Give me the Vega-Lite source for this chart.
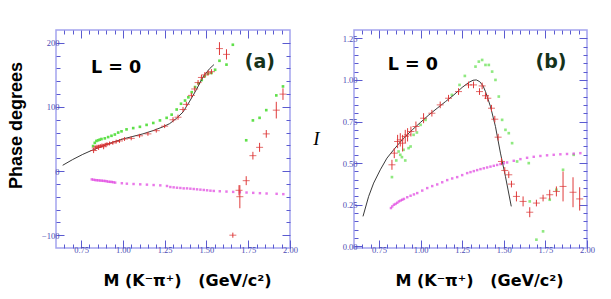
{
  "$schema": "https://vega.github.io/schema/vega-lite/v6.json",
  "padding": {"left": 6, "top": 28, "right": 5, "bottom": 5},
  "spacing": 13,
  "background": "white",
  "config": {
    "view": {"stroke": "#a4a4ee", "strokeWidth": 1.5},
    "axis": {
      "domain": false, "grid": false,
      "labelFont": "Liberation Serif", "labelFontSize": 8.5, "labelColor": "#4a4ab4",
      "tickColor": "#5a5ad0", "tickWidth": 1,
      "labelFlush": false, "labelOverlap": false, "labelPadding": 5,
      "titleFont": "Liberation Sans", "titleFontWeight": "bold", "titleColor": "#000000"
    }
  },
  "datasets": {
    "a_curve": [
      {"x": 0.64, "y": 9}, {"x": 0.70, "y": 18}, {"x": 0.76, "y": 26}, {"x": 0.82, "y": 33}, {"x": 0.88, "y": 39},
      {"x": 0.94, "y": 45}, {"x": 1.00, "y": 50}, {"x": 1.06, "y": 54}, {"x": 1.12, "y": 58}, {"x": 1.18, "y": 63},
      {"x": 1.24, "y": 69}, {"x": 1.28, "y": 74}, {"x": 1.32, "y": 82}, {"x": 1.36, "y": 92}, {"x": 1.40, "y": 109},
      {"x": 1.44, "y": 127}, {"x": 1.48, "y": 147}, {"x": 1.52, "y": 160}, {"x": 1.545, "y": 166}
    ],
    "a_red": [
      {"x": 0.825, "y": 32, "e": 4}, {"x": 0.835, "y": 36, "e": 4}, {"x": 0.845, "y": 38, "e": 3}, {"x": 0.855, "y": 37, "e": 4},
      {"x": 0.865, "y": 39, "e": 3}, {"x": 0.875, "y": 40, "e": 3}, {"x": 0.885, "y": 38, "e": 4}, {"x": 0.895, "y": 41, "e": 3},
      {"x": 0.905, "y": 42, "e": 3}, {"x": 0.92, "y": 43, "e": 3}, {"x": 0.94, "y": 44, "e": 3}, {"x": 0.96, "y": 46, "e": 3},
      {"x": 0.98, "y": 47, "e": 3}, {"x": 1.01, "y": 50, "e": 3}, {"x": 1.05, "y": 51, "e": 3}, {"x": 1.10, "y": 55, "e": 3},
      {"x": 1.15, "y": 58, "e": 3}, {"x": 1.20, "y": 63, "e": 3}, {"x": 1.25, "y": 70, "e": 3}, {"x": 1.30, "y": 80, "e": 4},
      {"x": 1.33, "y": 84, "e": 4}, {"x": 1.36, "y": 96, "e": 4}, {"x": 1.38, "y": 104, "e": 4}, {"x": 1.41, "y": 118, "e": 4},
      {"x": 1.43, "y": 128, "e": 4}, {"x": 1.45, "y": 138, "e": 4}, {"x": 1.47, "y": 146, "e": 4}, {"x": 1.49, "y": 150, "e": 4},
      {"x": 1.51, "y": 153, "e": 4}, {"x": 1.53, "y": 155, "e": 4},
      {"x": 1.578, "y": 191, "e": 10}, {"x": 1.62, "y": 182, "e": 8}, {"x": 1.658, "y": -100, "e": 4},
      {"x": 1.695, "y": -30, "e": 8}, {"x": 1.70, "y": -40, "e": 18}, {"x": 1.738, "y": -15, "e": 7},
      {"x": 1.778, "y": 24, "e": 6}, {"x": 1.818, "y": 37, "e": 7}, {"x": 1.858, "y": 58, "e": 6},
      {"x": 1.918, "y": 95, "e": 13}, {"x": 1.958, "y": 120, "e": 9}
    ],
    "a_green": [
      {"x": 0.822, "y": 39}, {"x": 0.832, "y": 44}, {"x": 0.842, "y": 47}, {"x": 0.852, "y": 48}, {"x": 0.862, "y": 49},
      {"x": 0.872, "y": 50}, {"x": 0.892, "y": 51}, {"x": 0.912, "y": 53}, {"x": 0.932, "y": 55}, {"x": 0.952, "y": 57},
      {"x": 0.972, "y": 60}, {"x": 0.992, "y": 62}, {"x": 1.022, "y": 65}, {"x": 1.062, "y": 67}, {"x": 1.102, "y": 69},
      {"x": 1.142, "y": 72}, {"x": 1.182, "y": 75}, {"x": 1.222, "y": 79}, {"x": 1.262, "y": 83}, {"x": 1.292, "y": 88},
      {"x": 1.322, "y": 96}, {"x": 1.348, "y": 105}, {"x": 1.372, "y": 110}, {"x": 1.392, "y": 115}, {"x": 1.412, "y": 123},
      {"x": 1.432, "y": 131}, {"x": 1.452, "y": 137}, {"x": 1.472, "y": 142}, {"x": 1.49, "y": 148}, {"x": 1.51, "y": 152},
      {"x": 1.53, "y": 153}, {"x": 1.552, "y": 158},
      {"x": 1.578, "y": 172}, {"x": 1.62, "y": 166}, {"x": 1.658, "y": 197}, {"x": 1.738, "y": 48}, {"x": 1.778, "y": 79},
      {"x": 1.818, "y": 83}, {"x": 1.858, "y": 95}, {"x": 1.918, "y": 118}, {"x": 1.958, "y": 132}
    ],
    "a_mag": [
      {"x": 0.814, "y": -13}, {"x": 0.824, "y": -13.5}, {"x": 0.834, "y": -14}, {"x": 0.844, "y": -14.3}, {"x": 0.854, "y": -14.5},
      {"x": 0.864, "y": -14.8}, {"x": 0.874, "y": -15}, {"x": 0.884, "y": -15.3}, {"x": 0.894, "y": -15.5}, {"x": 0.904, "y": -16},
      {"x": 0.914, "y": -16.6}, {"x": 0.924, "y": -16.8}, {"x": 0.934, "y": -17}, {"x": 0.944, "y": -17.5}, {"x": 0.954, "y": -18},
      {"x": 0.994, "y": -19}, {"x": 1.024, "y": -19.7}, {"x": 1.064, "y": -20.2}, {"x": 1.104, "y": -20.7}, {"x": 1.144, "y": -21.2},
      {"x": 1.184, "y": -21.8}, {"x": 1.224, "y": -22.3}, {"x": 1.264, "y": -23.3}, {"x": 1.284, "y": -24.9}, {"x": 1.304, "y": -25.4},
      {"x": 1.324, "y": -26}, {"x": 1.344, "y": -26.4}, {"x": 1.364, "y": -27}, {"x": 1.384, "y": -27}, {"x": 1.404, "y": -27.5},
      {"x": 1.424, "y": -28}, {"x": 1.444, "y": -28.5}, {"x": 1.464, "y": -29}, {"x": 1.484, "y": -29.5}, {"x": 1.504, "y": -30},
      {"x": 1.524, "y": -30.6}, {"x": 1.544, "y": -31}, {"x": 1.58, "y": -31.5}, {"x": 1.62, "y": -32}, {"x": 1.66, "y": -32.5},
      {"x": 1.70, "y": -33}, {"x": 1.74, "y": -33.5}, {"x": 1.78, "y": -34}, {"x": 1.82, "y": -34.5}, {"x": 1.86, "y": -35},
      {"x": 1.92, "y": -35.5}, {"x": 1.96, "y": -36}
    ],
    "a_text": [
      {"x": 0.96, "y": 161, "t": "L = 0"}
    ],
    "a_tag": [
      {"x": 1.82, "y": 170, "t": "(a)"}
    ],
    "b_curve": [
      {"x": 0.654, "y": 0.18}, {"x": 0.688, "y": 0.30}, {"x": 0.718, "y": 0.38}, {"x": 0.758, "y": 0.46}, {"x": 0.798, "y": 0.53},
      {"x": 0.838, "y": 0.58}, {"x": 0.898, "y": 0.65}, {"x": 0.95, "y": 0.70}, {"x": 1.0, "y": 0.745}, {"x": 1.05, "y": 0.79},
      {"x": 1.10, "y": 0.83}, {"x": 1.15, "y": 0.87}, {"x": 1.20, "y": 0.91}, {"x": 1.25, "y": 0.955}, {"x": 1.29, "y": 0.985},
      {"x": 1.315, "y": 0.998}, {"x": 1.335, "y": 1.0}, {"x": 1.355, "y": 0.99}, {"x": 1.375, "y": 0.965}, {"x": 1.39, "y": 0.93},
      {"x": 1.42, "y": 0.84}, {"x": 1.45, "y": 0.72}, {"x": 1.48, "y": 0.56}, {"x": 1.51, "y": 0.42}, {"x": 1.545, "y": 0.24}
    ],
    "b_red": [
      {"x": 0.828, "y": 0.49, "e": 0.03}, {"x": 0.842, "y": 0.56, "e": 0.03}, {"x": 0.862, "y": 0.63, "e": 0.04}, {"x": 0.878, "y": 0.64, "e": 0.04},
      {"x": 0.892, "y": 0.62, "e": 0.05}, {"x": 0.908, "y": 0.66, "e": 0.04}, {"x": 0.922, "y": 0.67, "e": 0.04}, {"x": 0.942, "y": 0.69, "e": 0.03},
      {"x": 0.972, "y": 0.72, "e": 0.03}, {"x": 1.018, "y": 0.77, "e": 0.03}, {"x": 1.068, "y": 0.80, "e": 0.02}, {"x": 1.118, "y": 0.85, "e": 0.02},
      {"x": 1.168, "y": 0.89, "e": 0.02}, {"x": 1.228, "y": 0.93, "e": 0.02}, {"x": 1.288, "y": 0.97, "e": 0.02}, {"x": 1.318, "y": 0.97, "e": 0.02},
      {"x": 1.354, "y": 0.93, "e": 0.02}, {"x": 1.37, "y": 0.964, "e": 0.02}, {"x": 1.39, "y": 0.905, "e": 0.02}, {"x": 1.404, "y": 0.89, "e": 0.02},
      {"x": 1.426, "y": 0.83, "e": 0.02}, {"x": 1.446, "y": 0.764, "e": 0.02}, {"x": 1.466, "y": 0.656, "e": 0.02}, {"x": 1.486, "y": 0.51, "e": 0.02},
      {"x": 1.506, "y": 0.456, "e": 0.02}, {"x": 1.53, "y": 0.43, "e": 0.02}, {"x": 1.546, "y": 0.374, "e": 0.02}, {"x": 1.576, "y": 0.30, "e": 0.03},
      {"x": 1.616, "y": 0.27, "e": 0.03}, {"x": 1.656, "y": 0.205, "e": 0.03}, {"x": 1.696, "y": 0.26, "e": 0.02}, {"x": 1.736, "y": 0.29, "e": 0.02},
      {"x": 1.776, "y": 0.31, "e": 0.03}, {"x": 1.816, "y": 0.33, "e": 0.03}, {"x": 1.856, "y": 0.36, "e": 0.09}, {"x": 1.916, "y": 0.325, "e": 0.09},
      {"x": 1.956, "y": 0.285, "e": 0.07}
    ],
    "b_green": [
      {"x": 0.828, "y": 0.416}, {"x": 0.854, "y": 0.516}, {"x": 0.868, "y": 0.57}, {"x": 0.878, "y": 0.55}, {"x": 0.888, "y": 0.536},
      {"x": 0.898, "y": 0.58}, {"x": 0.908, "y": 0.516}, {"x": 0.928, "y": 0.59}, {"x": 0.94, "y": 0.60}, {"x": 0.958, "y": 0.67},
      {"x": 0.978, "y": 0.684}, {"x": 1.0, "y": 0.73}, {"x": 1.03, "y": 0.76}, {"x": 1.188, "y": 0.91}, {"x": 1.234, "y": 0.97},
      {"x": 1.266, "y": 1.024}, {"x": 1.33, "y": 1.08}, {"x": 1.35, "y": 1.11}, {"x": 1.37, "y": 1.12}, {"x": 1.39, "y": 1.09},
      {"x": 1.41, "y": 1.09}, {"x": 1.43, "y": 1.05}, {"x": 1.45, "y": 1.0}, {"x": 1.47, "y": 0.90}, {"x": 1.49, "y": 0.76},
      {"x": 1.51, "y": 0.70}, {"x": 1.53, "y": 0.68}, {"x": 1.55, "y": 0.62}, {"x": 1.58, "y": 0.51}, {"x": 1.65, "y": 0.50},
      {"x": 1.656, "y": 0.27}, {"x": 1.696, "y": 0.04}, {"x": 1.736, "y": 0.09}, {"x": 1.776, "y": 0.28}, {"x": 1.816, "y": 0.34},
      {"x": 1.856, "y": 0.46}, {"x": 1.92, "y": 0.55}
    ],
    "b_mag": [
      {"x": 0.822, "y": 0.23}, {"x": 0.83, "y": 0.24}, {"x": 0.84, "y": 0.25}, {"x": 0.85, "y": 0.255}, {"x": 0.86, "y": 0.262},
      {"x": 0.87, "y": 0.27}, {"x": 0.88, "y": 0.275}, {"x": 0.89, "y": 0.28}, {"x": 0.90, "y": 0.285}, {"x": 0.92, "y": 0.295},
      {"x": 0.94, "y": 0.304}, {"x": 0.96, "y": 0.312}, {"x": 0.98, "y": 0.32}, {"x": 1.01, "y": 0.335}, {"x": 1.04, "y": 0.35},
      {"x": 1.07, "y": 0.362}, {"x": 1.10, "y": 0.372}, {"x": 1.13, "y": 0.385}, {"x": 1.16, "y": 0.398}, {"x": 1.19, "y": 0.408},
      {"x": 1.22, "y": 0.416}, {"x": 1.25, "y": 0.428}, {"x": 1.28, "y": 0.44}, {"x": 1.30, "y": 0.446}, {"x": 1.32, "y": 0.452},
      {"x": 1.34, "y": 0.458}, {"x": 1.36, "y": 0.464}, {"x": 1.38, "y": 0.469}, {"x": 1.40, "y": 0.474}, {"x": 1.42, "y": 0.479},
      {"x": 1.44, "y": 0.484}, {"x": 1.46, "y": 0.489}, {"x": 1.48, "y": 0.494}, {"x": 1.50, "y": 0.499}, {"x": 1.52, "y": 0.504},
      {"x": 1.56, "y": 0.514}, {"x": 1.60, "y": 0.524}, {"x": 1.64, "y": 0.532}, {"x": 1.68, "y": 0.538}, {"x": 1.72, "y": 0.543},
      {"x": 1.76, "y": 0.547}, {"x": 1.80, "y": 0.55}, {"x": 1.84, "y": 0.553}, {"x": 1.88, "y": 0.555}, {"x": 1.92, "y": 0.557},
      {"x": 1.96, "y": 0.56}
    ],
    "b_text": [
      {"x": 0.954, "y": 1.09, "t": "L = 0"}
    ],
    "b_tag": [
      {"x": 1.784, "y": 1.108, "t": "(b)"}
    ]
  },
  "hconcat": [
    {
      "width": 234, "height": 218,
      "resolve": {"axis": {"x": "independent", "y": "independent"}},
      "layer": [
        {
          "data": {"name": "a_green"},
          "mark": {"type": "square", "size": 7, "color": "#5fe04a", "opacity": 1},
          "encoding": {
            "x": {"field": "x", "type": "quantitative", "scale": {"domain": [0.6, 2.0], "nice": false, "zero": false},
              "axis": {"orient": "bottom", "title": "M (K⁻π⁺)\u00a0\u00a0\u00a0(GeV/c²)", "titleFont": "DejaVu Sans", "titleFontSize": 16, "titleX": 131, "titleY": 32, "titleBaseline": "middle",
                "values": [0.65,0.7,0.75,0.8,0.85,0.9,0.95,1.0,1.05,1.1,1.15,1.2,1.25,1.3,1.35,1.4,1.45,1.5,1.55,1.6,1.65,1.7,1.75,1.8,1.85,1.9,1.95,2.0],
                "tickSize": {"condition": {"test": "abs(datum.value*4-round(datum.value*4))<0.001", "value": -8}, "value": -4},
                "labelExpr": "abs(datum.value*4-round(datum.value*4))<0.001 ? format(datum.value,'.2f') : ''"}},
            "y": {"field": "y", "type": "quantitative", "scale": {"domain": [-120, 220], "nice": false, "zero": false},
              "axis": {"orient": "left", "title": "Phase degrees", "titleFontSize": 18, "titleX": -40, "titleY": 95, "titleBaseline": "middle", "titleAlign": "center",
                "values": [-100,-80,-60,-40,-20,0,20,40,60,80,100,120,140,160,180,200],
                "tickSize": {"condition": {"test": "datum.value % 100 == 0", "value": -8}, "value": -4},
                "labelExpr": "datum.value % 100 == 0 ? datum.label : ''"}}
          }
        },
        {
          "data": {"name": "a_mag"},
          "mark": {"type": "square", "size": 6, "color": "#e040e0"},
          "encoding": {
            "x": {"field": "x", "type": "quantitative",
              "axis": {"orient": "top", "title": null, "labels": false,
                "values": [0.65,0.7,0.75,0.8,0.85,0.9,0.95,1.0,1.05,1.1,1.15,1.2,1.25,1.3,1.35,1.4,1.45,1.5,1.55,1.6,1.65,1.7,1.75,1.8,1.85,1.9,1.95],
                "tickSize": {"condition": {"test": "abs(datum.value*4-round(datum.value*4))<0.001", "value": -8}, "value": -4}}},
            "y": {"field": "y", "type": "quantitative",
              "axis": {"orient": "right", "title": null, "labels": false,
                "values": [-100,-80,-60,-40,-20,0,20,40,60,80,100,120,140,160,180,200],
                "tickSize": {"condition": {"test": "datum.value % 100 == 0", "value": -8}, "value": -4}}}
          }
        },
        {
          "data": {"name": "a_curve"},
          "mark": {"type": "line", "color": "#222222", "strokeWidth": 0.9},
          "encoding": {
            "x": {"field": "x", "type": "quantitative", "axis": null},
            "y": {"field": "y", "type": "quantitative", "axis": null}
          }
        },
        {
          "data": {"name": "a_red"},
          "mark": {"type": "errorbar", "color": "#e03a3a", "thickness": 1},
          "encoding": {
            "x": {"field": "x", "type": "quantitative", "axis": null},
            "y": {"field": "y", "type": "quantitative", "axis": null},
            "yError": {"field": "e"}
          }
        },
        {
          "data": {"name": "a_red"},
          "mark": {"type": "tick", "orient": "horizontal", "color": "#d83030", "size": 7, "thickness": 1},
          "encoding": {
            "x": {"field": "x", "type": "quantitative", "axis": null},
            "y": {"field": "y", "type": "quantitative", "axis": null}
          }
        },
        {
          "data": {"name": "a_text"},
          "mark": {"type": "text", "font": "DejaVu Sans", "fontWeight": "bold", "fontSize": 17.5, "color": "#000000", "align": "center", "baseline": "middle"},
          "encoding": {
            "x": {"field": "x", "type": "quantitative", "axis": null},
            "y": {"field": "y", "type": "quantitative", "axis": null},
            "text": {"field": "t"}
          }
        },
        {
          "data": {"name": "a_tag"},
          "mark": {"type": "text", "font": "DejaVu Sans", "fontWeight": "bold", "fontSize": 19, "color": "#15321a", "align": "center", "baseline": "middle"},
          "encoding": {
            "x": {"field": "x", "type": "quantitative", "axis": null},
            "y": {"field": "y", "type": "quantitative", "axis": null},
            "text": {"field": "t"}
          }
        }
      ]
    },
    {
      "width": 233, "height": 218,
      "resolve": {"axis": {"x": "independent", "y": "independent"}},
      "layer": [
        {
          "data": {"name": "b_green"},
          "mark": {"type": "square", "size": 7, "color": "#5fe04a"},
          "encoding": {
            "x": {"field": "x", "type": "quantitative", "scale": {"domain": [0.6, 2.0], "nice": false, "zero": false},
              "axis": {"orient": "bottom", "title": "M (K⁻π⁺)\u00a0\u00a0\u00a0(GeV/c²)", "titleFont": "DejaVu Sans", "titleFontSize": 16, "titleX": 125, "titleY": 32, "titleBaseline": "middle",
                "values": [0.65,0.7,0.75,0.8,0.85,0.9,0.95,1.0,1.05,1.1,1.15,1.2,1.25,1.3,1.35,1.4,1.45,1.5,1.55,1.6,1.65,1.7,1.75,1.8,1.85,1.9,1.95,2.0],
                "tickSize": {"condition": {"test": "abs(datum.value*4-round(datum.value*4))<0.001", "value": -8}, "value": -4},
                "labelExpr": "abs(datum.value*4-round(datum.value*4))<0.001 ? format(datum.value,'.2f') : ''"}},
            "y": {"field": "y", "type": "quantitative", "scale": {"domain": [-0.01, 1.3], "nice": false, "zero": false},
              "axis": {"orient": "left", "title": "I", "titleFont": "Liberation Serif", "titleFontStyle": "italic", "titleFontWeight": "normal", "titleFontSize": 19,
                "titleAngle": 0, "titleX": -38, "titleY": 108, "titleBaseline": "middle", "titleAlign": "center",
                "values": [0,0.05,0.1,0.15,0.2,0.25,0.3,0.35,0.4,0.45,0.5,0.55,0.6,0.65,0.7,0.75,0.8,0.85,0.9,0.95,1.0,1.05,1.1,1.15,1.2,1.25],
                "tickSize": {"condition": {"test": "abs(datum.value*4-round(datum.value*4))<0.001", "value": -8}, "value": -4},
                "labelExpr": "abs(datum.value*4-round(datum.value*4))<0.001 ? format(datum.value,'.2f') : ''"}}
          }
        },
        {
          "data": {"name": "b_mag"},
          "mark": {"type": "square", "size": 6, "color": "#e040e0"},
          "encoding": {
            "x": {"field": "x", "type": "quantitative",
              "axis": {"orient": "top", "title": null, "labels": false,
                "values": [0.65,0.7,0.75,0.8,0.85,0.9,0.95,1.0,1.05,1.1,1.15,1.2,1.25,1.3,1.35,1.4,1.45,1.5,1.55,1.6,1.65,1.7,1.75,1.8,1.85,1.9,1.95],
                "tickSize": {"condition": {"test": "abs(datum.value*4-round(datum.value*4))<0.001", "value": -8}, "value": -4}}},
            "y": {"field": "y", "type": "quantitative",
              "axis": {"orient": "right", "title": null, "labels": false,
                "values": [0.05,0.1,0.15,0.2,0.25,0.3,0.35,0.4,0.45,0.5,0.55,0.6,0.65,0.7,0.75,0.8,0.85,0.9,0.95,1.0,1.05,1.1,1.15,1.2,1.25],
                "tickSize": {"condition": {"test": "abs(datum.value*4-round(datum.value*4))<0.001", "value": -8}, "value": -4}}}
          }
        },
        {
          "data": {"name": "b_curve"},
          "mark": {"type": "line", "color": "#222222", "strokeWidth": 0.9},
          "encoding": {
            "x": {"field": "x", "type": "quantitative", "axis": null},
            "y": {"field": "y", "type": "quantitative", "axis": null}
          }
        },
        {
          "data": {"name": "b_red"},
          "mark": {"type": "errorbar", "color": "#e03a3a", "thickness": 1},
          "encoding": {
            "x": {"field": "x", "type": "quantitative", "axis": null},
            "y": {"field": "y", "type": "quantitative", "axis": null},
            "yError": {"field": "e"}
          }
        },
        {
          "data": {"name": "b_red"},
          "mark": {"type": "tick", "orient": "horizontal", "color": "#d83030", "size": 7, "thickness": 1},
          "encoding": {
            "x": {"field": "x", "type": "quantitative", "axis": null},
            "y": {"field": "y", "type": "quantitative", "axis": null}
          }
        },
        {
          "data": {"name": "b_text"},
          "mark": {"type": "text", "font": "DejaVu Sans", "fontWeight": "bold", "fontSize": 17.5, "color": "#000000", "align": "center", "baseline": "middle"},
          "encoding": {
            "x": {"field": "x", "type": "quantitative", "axis": null},
            "y": {"field": "y", "type": "quantitative", "axis": null},
            "text": {"field": "t"}
          }
        },
        {
          "data": {"name": "b_tag"},
          "mark": {"type": "text", "font": "DejaVu Sans", "fontWeight": "bold", "fontSize": 19, "color": "#15321a", "align": "center", "baseline": "middle"},
          "encoding": {
            "x": {"field": "x", "type": "quantitative", "axis": null},
            "y": {"field": "y", "type": "quantitative", "axis": null},
            "text": {"field": "t"}
          }
        }
      ]
    }
  ]
}
